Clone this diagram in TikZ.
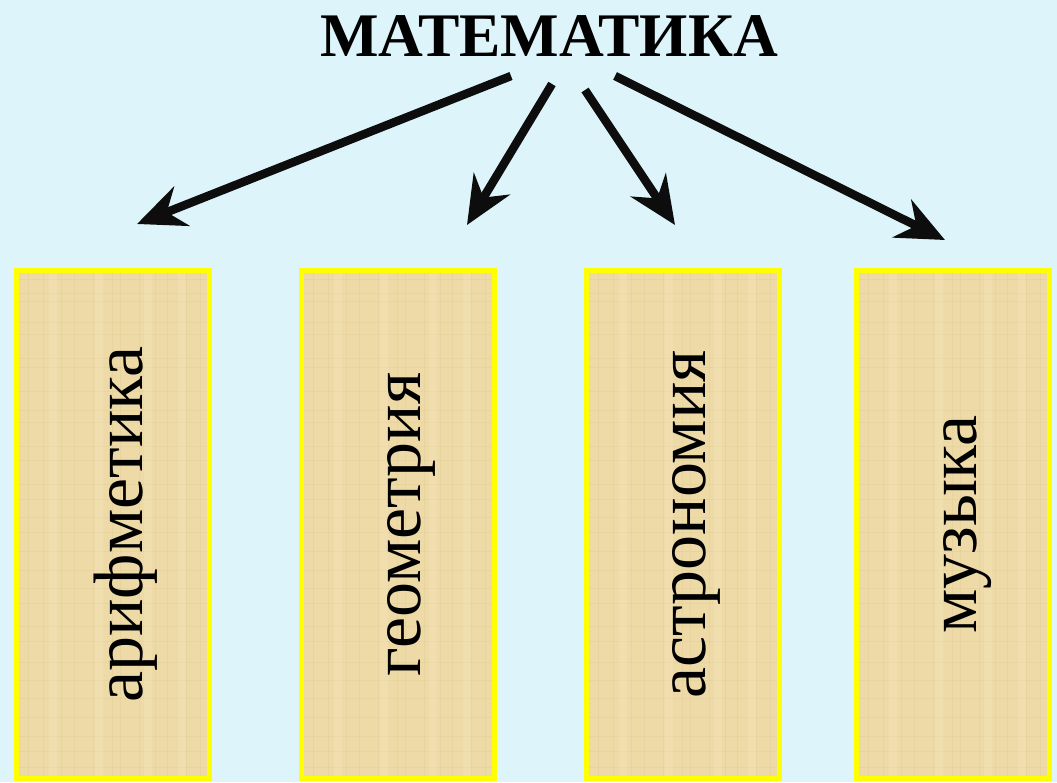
\documentclass[tikz,border=0pt]{standalone}
\usepackage{fontspec}
\setmainfont{Liberation Serif}
\usetikzlibrary{arrows.meta}
\usetikzlibrary{positioning}

\definecolor{skyback}{HTML}{DDF5FA}
\definecolor{papyrus}{HTML}{EDDAA7}
\definecolor{papyrusline}{HTML}{C8AC6C}
\definecolor{papyruslight}{HTML}{F7E9C4}
\definecolor{frameyellow}{HTML}{FFFF00}

\tikzset{
  scroll/.style={draw=frameyellow, line width=5pt, fill=papyrus, inner sep=0pt,
    minimum width=193pt, minimum height=508pt,
    path picture={
      \foreach \k in {9,23,31,52,64,88,97,121,140,152,176,190,214,229,247,262,281,300,318,333,356,371,392,410,428,447,466,481,497}
        \draw[papyrusline, opacity=0.13, line width=1.3pt]
          ([yshift=-\k pt]path picture bounding box.north west) -- ([yshift=-\k pt]path picture bounding box.north east);
      \foreach \k in {12,27,45,58,77,96,104,123,139,151,170,184}
        \draw[papyrusline, opacity=0.11, line width=1pt]
          ([xshift=\k pt]path picture bounding box.north west) -- ([xshift=\k pt]path picture bounding box.south west);
      \foreach \k in {36,82,131,165}
        \draw[papyruslight, opacity=0.3, line width=8pt]
          ([xshift=\k pt]path picture bounding box.north west) -- ([xshift=\k pt]path picture bounding box.south west);
    }},
  subject/.style={rotate=90, font=\fontsize{70}{72}\selectfont},
  branch/.style={-{Stealth[length=48pt,width=42pt,inset=16pt]}, line width=8.5pt, draw=black!95}
}

\begin{document}
\begin{tikzpicture}[x=1pt,y=-1pt]

% light blue background
\fill[skyback] (0,0) rectangle (1057,782);
\useasboundingbox (0,0) rectangle (1057,782);

% title
\node[font=\bfseries\fontsize{62}{64}\selectfont] (title) at (549,36) {МАТЕМАТИКА};

% papyrus boxes
\node[scroll] (arith) at (113,524.5) {};
\node[scroll] (geom)  at (398,524.5) {};
\node[scroll] (astro) at (683,524.5) {};
\node[scroll] (music) at (953,524.5) {};

% rotated labels
\node[subject] (arithtext) at ([xshift=13pt]arith) {арифметика};
\node[subject] (geomtext)  at ([xshift=13pt]geom)  {геометрия};
\node[subject] (astrotext) at ([xshift=13pt]astro) {астрономия};
\node[subject] (musictext) at ([xshift=15pt]music) {музыка};

% arrow ends
\coordinate (arithfrom) at (511,76);
\coordinate (arithto)   at (137,224);
\coordinate (geomfrom)  at (552,84);
\coordinate (geomto)    at (467,225);
\coordinate (astrofrom) at (585,90);
\coordinate (astroto)   at (675,225);
\coordinate (musicfrom) at (615,76);
\coordinate (musicto)   at (945,240);

% arrows
\draw[branch] (arithfrom) -- (arithto);
\draw[branch] (geomfrom) -- (geomto);
\draw[branch] (astrofrom) -- (astroto);
\draw[branch] (musicfrom) -- (musicto);

\end{tikzpicture}
\end{document}
